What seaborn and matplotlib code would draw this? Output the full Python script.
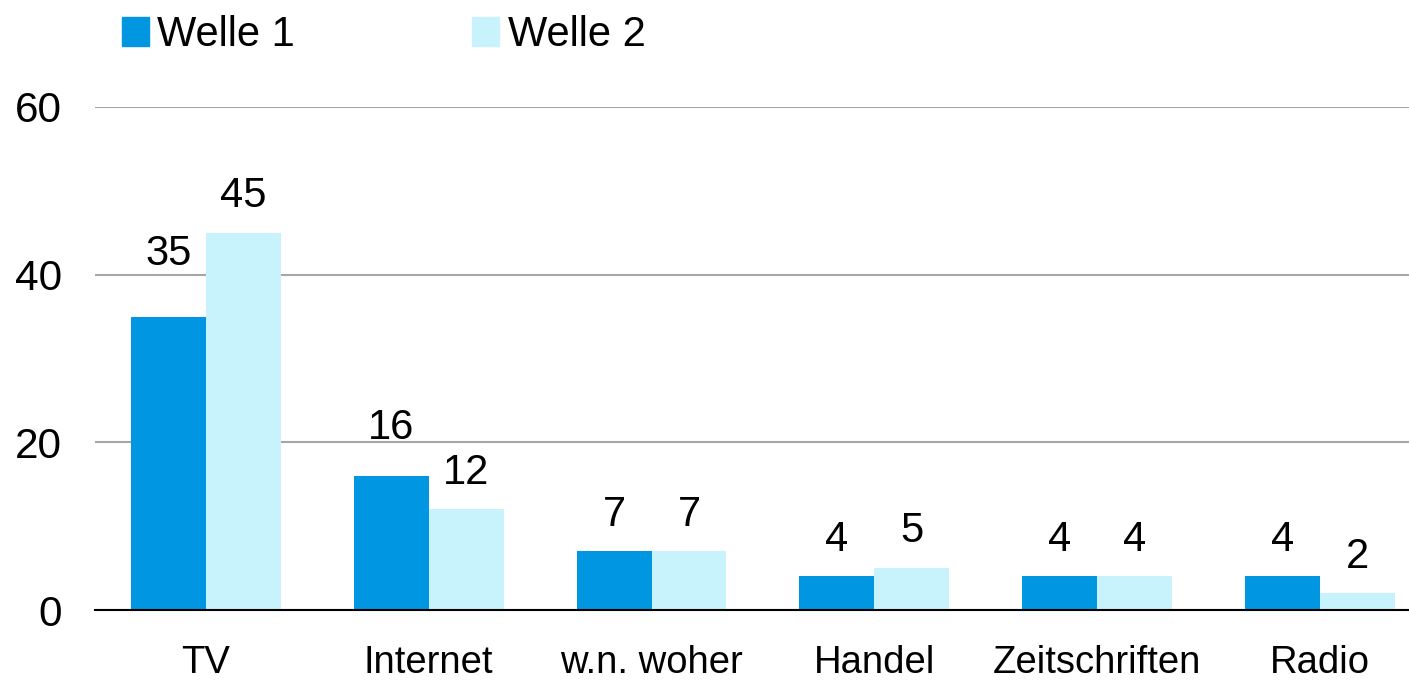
import pandas as pd
import matplotlib
matplotlib.use('Agg')
import matplotlib.pyplot as plt
import seaborn as sns

# data
categories = ['TV', 'Internet', 'w.n. woher', 'Handel', 'Zeitschriften', 'Radio']
welle_1 = [35, 16, 7, 4, 4, 4]
welle_2 = [45, 12, 7, 5, 4, 2]
series_names = ['Welle 1', 'Welle 2']
y_ticks = [0, 20, 40, 60]

# label offsets above the bars (points) - some labels sit higher in the original
label_pad_1 = [30.5, 20, 12, 12, 12, 12]
label_pad_2 = [12, 12, 12, 12, 12, 12]

colors = ['#0096E1', '#C8F2FC']

sns.set_theme(style='white')
plt.rcParams['font.family'] = ['Liberation Sans', 'DejaVu Sans']

df = pd.DataFrame({
    'Kategorie': categories * 2,
    'Wert': welle_1 + welle_2,
    'Welle': [series_names[0]] * len(categories) + [series_names[1]] * len(categories),
})

fig = plt.figure(figsize=(14.09, 6.82), dpi=100)
ax = fig.add_axes([95 / 1409, 72 / 682, 1314 / 1409, 503 / 682])

sns.barplot(data=df, x='Kategorie', y='Wert', hue='Welle', order=categories,
            hue_order=series_names, palette=colors, width=0.673, gap=0,
            saturation=1, linewidth=0, ax=ax)

label_fs = 30
for cont, pads in zip(ax.containers, [label_pad_1, label_pad_2]):
    for bar, pad in zip(cont, pads):
        h = bar.get_height()
        ax.annotate(f'{h:.0f}', (bar.get_x() + bar.get_width() / 2, h),
                    xytext=(0, pad), textcoords='offset points',
                    ha='center', va='bottom', fontsize=label_fs, color='black')

ax.set_xlim(-0.498, 5.40)
ax.set_ylim(0, 60)
ax.set_yticks(y_ticks)
ax.yaxis.grid(True, color='#A6A6A6', linewidth=1.5)
ax.set_axisbelow(True)
ax.tick_params(axis='y', length=0, pad=24, labelsize=30.5, labelcolor='black')
ax.tick_params(axis='x', length=0, pad=25, labelsize=27.5, labelcolor='black')
ax.set_xlabel('')
ax.set_ylabel('')
for side in ['left', 'top', 'right']:
    ax.spines[side].set_visible(False)
ax.spines['bottom'].set_color('black')
ax.spines['bottom'].set_linewidth(1.5)

ax.get_legend().remove()
handles = [plt.Rectangle((0, 0), 1, 1, color=c) for c in colors]
fig.legend(handles, series_names, loc='upper left', bbox_to_anchor=(122 / 1409, 0.978),
           ncol=2, frameon=False, fontsize=30, labelcolor='black',
           handlelength=0.65, handleheight=0.7, handletextpad=0.2,
           columnspacing=4.25, borderaxespad=0, borderpad=0)

fig.savefig('out.png', dpi=100)
